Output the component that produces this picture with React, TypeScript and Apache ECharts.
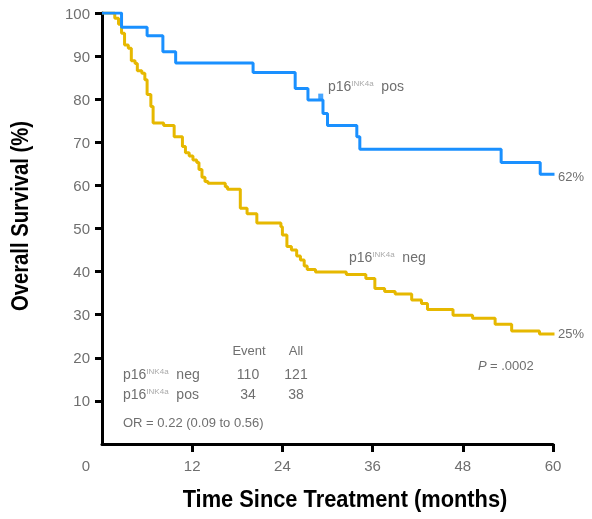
import React, { useEffect, useRef } from "react";
import * as echarts from "echarts";

// p16INK4a positive (months, survival %)
const posTimes = [0, 2.6, 6.0, 8.1, 9.8, 20.1, 25.7, 27.4, 29.4, 30.0, 33.9, 34.3, 53.1, 58.3, 60.2];
const posValues = [100, 96.7, 94.7, 91.0, 88.4, 86.2, 82.5, 79.8, 76.7, 73.9, 71.3, 68.4, 65.3, 62.6, 62.6];
const posCensorTimes = [29.1];
const posCensorValues = [80.6];

// p16INK4a negative (months, survival %)
const negTimes = [
  0, 1.7, 2.2, 2.6, 3.0, 3.5, 3.9, 4.4, 4.7, 5.3, 5.7, 6.0, 6.5, 6.8, 8.2, 9.6, 10.7, 11.1, 11.6,
  12.1, 12.6, 12.9, 13.3, 13.7, 14.1, 16.4, 16.7, 18.4, 19.3, 20.6, 23.8, 24.0, 24.6, 25.2, 25.9,
  26.4, 26.9, 27.3, 28.4, 32.5, 35.1, 36.3, 37.6, 39.0, 41.2, 42.5, 43.3, 46.7, 49.3, 52.3, 54.5,
  58.2, 60.2,
];
const negValues = [
  100, 98.8, 97.4, 95.3, 92.6, 91.8, 88.9, 88.3, 86.6, 86.0, 84.5, 81.1, 78.3, 74.5, 73.9, 71.3,
  69.0, 67.6, 66.8, 65.9, 65.3, 63.7, 61.9, 60.9, 60.5, 59.7, 59.1, 54.7, 53.4, 51.3, 50.4, 48.5,
  45.8, 45.0, 43.6, 42.7, 41.3, 40.5, 39.9, 39.3, 38.4, 36.1, 35.4, 34.8, 33.4, 32.6, 31.2, 29.9,
  29.2, 27.8, 26.2, 25.5, 25.5,
];

const xLabelValues = [0, 12, 24, 36, 48, 60];
const xTickValues = [12, 24, 36, 48, 60];
const yValues = [10, 20, 30, 40, 50, 60, 70, 80, 90, 100];

const tableHeader = ["Event", "All"];
const tableRows = [
  { group: "neg", event: "110", all: "121" },
  { group: "pos", event: "34", all: "38" },
];
const oddsText = "OR = 0.22 (0.09 to 0.56)";
const pText = ".0002";
const posEndLabel = "62%";
const negEndLabel = "25%";

const BLUE = "#1a90ff";
const YELLOW = "#e6b800";
const GRAY = "#6f6f6f";
const SANS = "'Liberation Sans', Arial, sans-serif";

const zip = (a: number[], b: number[]) => a.map((t, i) => [t, b[i]]);

const p16 = (suffix: string, size: number) => ({
  type: "text",
  style: {
    text: `{m|p16}{s|INK4a}{m|  ${suffix}}`,
    rich: {
      m: { fontSize: size, fill: GRAY, fontFamily: SANS },
      s: { fontSize: 8, fill: "#aaaaaa", fontFamily: SANS, verticalAlign: "top", padding: [0, 0, 6, 0] },
    },
    textVerticalAlign: "middle",
  },
});

export default function App() {
  const ref = useRef<HTMLDivElement>(null);
  useEffect(() => {
    if (!ref.current) return;
    const chart = echarts.init(ref.current, undefined, { renderer: "svg" });
    const labelStyle = { color: GRAY, fontSize: 15, fontFamily: SANS };
    chart.setOption({
      animation: false,
      grid: { left: 102, right: 39, top: 13, bottom: 75, containLabel: false },
      xAxis: {
        type: "value",
        min: 0,
        max: 60,
        interval: 12,
        axisLine: { show: true, lineStyle: { color: "#000", width: 3 } },
        axisTick: { show: true, length: 8, lineStyle: { color: "#000", width: 3 }, customValues: xTickValues },
        axisLabel: {
          ...labelStyle,
          margin: 14,
          customValues: xLabelValues,
          formatter: (v: number) => (v === 0 ? "{z|0}" : String(v)),
          rich: { z: { ...labelStyle, padding: [0, 32, 0, 0] } },
        },
        splitLine: { show: false },
      },
      yAxis: {
        type: "value",
        min: 0,
        max: 100,
        interval: 10,
        axisLine: { show: true, lineStyle: { color: "#000", width: 3 } },
        axisTick: { show: true, length: 7, lineStyle: { color: "#000", width: 3 }, customValues: yValues },
        axisLabel: { ...labelStyle, margin: 12, customValues: yValues },
        splitLine: { show: false },
      },
      series: [
        {
          type: "line",
          step: "end",
          data: zip(negTimes, negValues),
          showSymbol: false,
          lineStyle: { color: YELLOW, width: 3 },
          z: 2,
        },
        {
          type: "line",
          step: "end",
          data: zip(posTimes, posValues),
          showSymbol: false,
          lineStyle: { color: BLUE, width: 3 },
          z: 3,
        },
        {
          type: "scatter",
          data: zip(posCensorTimes, posCensorValues),
          symbol: "rect",
          symbolSize: [5, 6],
          itemStyle: { color: BLUE },
          z: 4,
        },
      ],
      graphic: [
        {
          type: "text",
          x: 20,
          y: 216,
          rotation: Math.PI / 2,
          scaleX: 0.88,
          style: {
            text: "Overall Survival (%)",
            font: `bold 23px ${SANS}`,
            fill: "#000",
            textAlign: "center",
            textVerticalAlign: "middle",
          },
        },
        {
          type: "text",
          x: 345,
          y: 499,
          scaleX: 0.91,
          style: {
            text: "Time Since Treatment (months)",
            font: `bold 24px ${SANS}`,
            fill: "#000",
            textAlign: "center",
            textVerticalAlign: "middle",
          },
        },
        { ...p16("pos", 14), x: 328, y: 86 },
        { ...p16("neg", 14), x: 349, y: 257 },
        {
          type: "text",
          x: 558,
          y: 176,
          style: { text: posEndLabel, fill: GRAY, font: `13px ${SANS}`, textVerticalAlign: "middle" },
        },
        {
          type: "text",
          x: 558,
          y: 333,
          style: { text: negEndLabel, fill: GRAY, font: `13px ${SANS}`, textVerticalAlign: "middle" },
        },
        {
          type: "text",
          x: 249,
          y: 350,
          style: { text: tableHeader[0], fill: GRAY, font: `13px ${SANS}`, textAlign: "center", textVerticalAlign: "middle" },
        },
        {
          type: "text",
          x: 296,
          y: 350,
          style: { text: tableHeader[1], fill: GRAY, font: `13px ${SANS}`, textAlign: "center", textVerticalAlign: "middle" },
        },
        ...tableRows.flatMap((r, i) => [
          { ...p16(r.group, 14), x: 123, y: 374 + i * 20 },
          {
            type: "text",
            x: 248,
            y: 374 + i * 20,
            style: { text: r.event, fill: GRAY, font: `14px ${SANS}`, textAlign: "center", textVerticalAlign: "middle" },
          },
          {
            type: "text",
            x: 296,
            y: 374 + i * 20,
            style: { text: r.all, fill: GRAY, font: `14px ${SANS}`, textAlign: "center", textVerticalAlign: "middle" },
          },
        ]),
        {
          type: "text",
          x: 123,
          y: 422,
          style: { text: oddsText, fill: GRAY, font: `13px ${SANS}`, textVerticalAlign: "middle" },
        },
        {
          type: "text",
          x: 478,
          y: 365,
          style: {
            text: `{i|P} {m|= ${pText}}`,
            rich: {
              i: { fontStyle: "italic", fontSize: 13, fill: GRAY, fontFamily: SANS },
              m: { fontSize: 13, fill: GRAY, fontFamily: SANS },
            },
            textVerticalAlign: "middle",
          },
        },
      ],
    });
    return () => chart.dispose();
  }, []);
  return <div ref={ref} style={{ position: "fixed", left: 0, top: 0, width: 592, height: 519 }} />;
}
